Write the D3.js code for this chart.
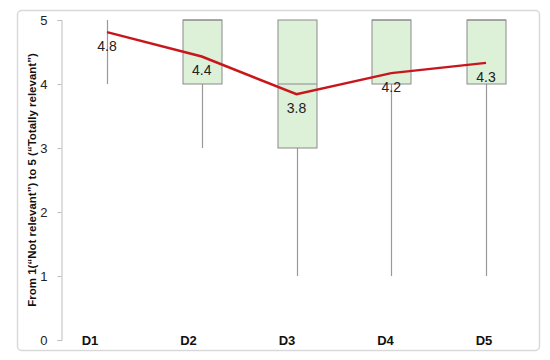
<!DOCTYPE html>
<html><head><meta charset="utf-8">
<script src="https://cdn.jsdelivr.net/npm/d3@7/dist/d3.min.js"></script>
<style>body{margin:0;background:#fff}svg{display:block}</style>
</head><body><svg id="c" width="550" height="360"></svg>
<script>
const categories = ["D1","D2","D3","D4","D5"];
const whiskerMin = [4, 3, 1, 1, 1];
const q1 = [5, 4, 3, 4, 4];
const median = [5, 5, 4, 5, 5];
const q3 = [5, 5, 5, 5, 5];
const whiskerMax = [5, 5, 5, 5, 5];
const means = [4.81, 4.43, 3.84, 4.17, 4.33];
const meanLabels = ["4.8","4.4","3.8","4.2","4.3"];
const yTicks = [0,1,2,3,4,5];

const svg = d3.select("#c");
const font = "Liberation Sans, Arial, sans-serif";

svg.append("rect").attr("x",17.5).attr("y",10.5).attr("width",522).attr("height",340)
  .attr("rx",4).attr("fill","#fff").attr("stroke","#d9d9d9").attr("stroke-width",1.5);

const y = d3.scaleLinear().domain([0,5]).range([340,20]);
const x = d3.scalePoint().domain(categories).range([107,486]);
const xl = d3.scalePoint().domain(categories).range([90,484]);
const bw = 39;

const yAxis = svg.append("g").attr("transform","translate(61.5,0)")
  .call(d3.axisLeft(y).tickValues(yTicks).tickSize(4).tickPadding(10).tickFormat(d3.format("d")));
yAxis.select(".domain").attr("stroke","#bdbdbd");
yAxis.selectAll(".tick line").attr("stroke","#bdbdbd");
yAxis.selectAll(".tick text").attr("font-family",font).attr("font-size",13).attr("fill","#222");

svg.append("text").attr("transform","translate(36,180) rotate(-90)")
  .attr("text-anchor","middle").attr("font-family",font).attr("font-size",11.5)
  .attr("font-weight","bold").attr("fill","#111")
  .text("From 1(\u201cNot relevant\u201d) to 5 (\u201cTotally relevant\u201d)");

const g = svg.append("g");
categories.forEach((c,i)=>{
  const cx = Math.round(x(c))+0.5;
  g.append("line").attr("x1",cx).attr("x2",cx).attr("y1",y(whiskerMin[i])).attr("y2",y(whiskerMax[i]))
    .attr("stroke","#999").attr("stroke-width",1.2);
  if (q3[i] > q1[i]) {
    g.append("rect").attr("x",cx-bw/2).attr("y",y(q3[i])).attr("width",bw).attr("height",y(q1[i])-y(q3[i]))
      .attr("fill","#ddf0d8").attr("stroke","#8a8a8a").attr("stroke-width",1);
    g.append("line").attr("x1",cx-bw/2).attr("x2",cx+bw/2).attr("y1",y(median[i])).attr("y2",y(median[i]))
      .attr("stroke","#8a8a8a").attr("stroke-width",1);
  }
});

svg.append("path").datum(categories)
  .attr("d", d3.line().x(c=>x(c)).y((c,i)=>y(means[i])))
  .attr("fill","none").attr("stroke","#c8161d").attr("stroke-width",2.5);

svg.selectAll(".ml").data(categories).enter().append("text")
  .attr("x",c=>x(c)).attr("y",(c,i)=>y(means[i])+19)
  .attr("text-anchor","middle").attr("font-family",font).attr("font-size",14).attr("fill","#222")
  .text((c,i)=>meanLabels[i]);

svg.selectAll(".cl").data(categories).enter().append("text")
  .attr("x",c=>xl(c)).attr("y",y(0)+5)
  .attr("text-anchor","middle").attr("font-family",font).attr("font-size",13).attr("font-weight","bold").attr("fill","#111")
  .text(c=>c);
</script></body></html>
